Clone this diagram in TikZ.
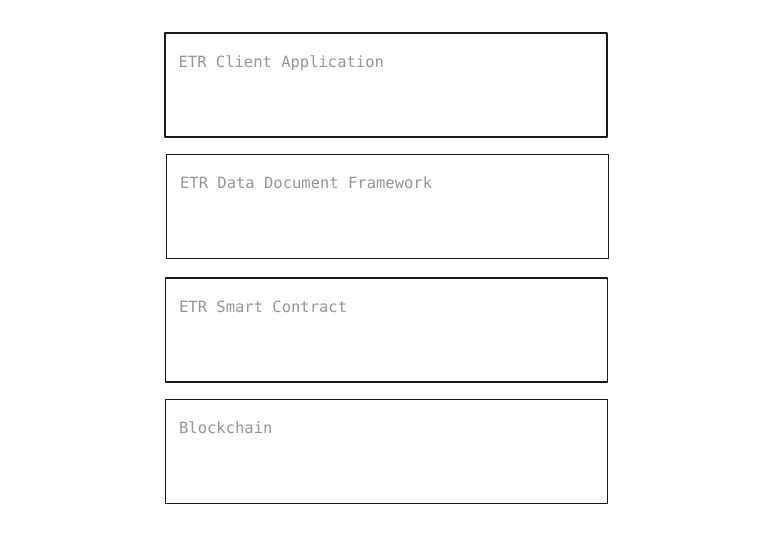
\documentclass[tikz,border=0pt]{standalone}
\usepackage{fontspec}
\setmonofont{DejaVu Sans Mono}
\definecolor{labgray}{HTML}{959595}
\begin{document}
\begin{tikzpicture}[
  x=1pt,y=-1pt,
  layer/.style={draw=black!90,fill=white,minimum width=442pt,minimum height=104pt,inner sep=0pt,line width=1.1pt,line join=round},
  lab/.style={font=\fontsize{15.5}{18}\ttfamily,text=labgray,anchor=base west,inner sep=0pt}
]
\useasboundingbox (0,0) rectangle (768,535);

\foreach \i/\x/\y/\t in {1/386/85/ETR Client Application,2/387.5/206.5/ETR Data Document Framework,3/386.5/330/ETR Smart Contract,4/386.5/451.5/Blockchain}{
  \node[layer] (box\i) at (\x,\y) {};
  \node[lab] (lab\i) at ([xshift=14pt,yshift=-35pt]box\i.north west) {\t};
}

\end{tikzpicture}
\end{document}
